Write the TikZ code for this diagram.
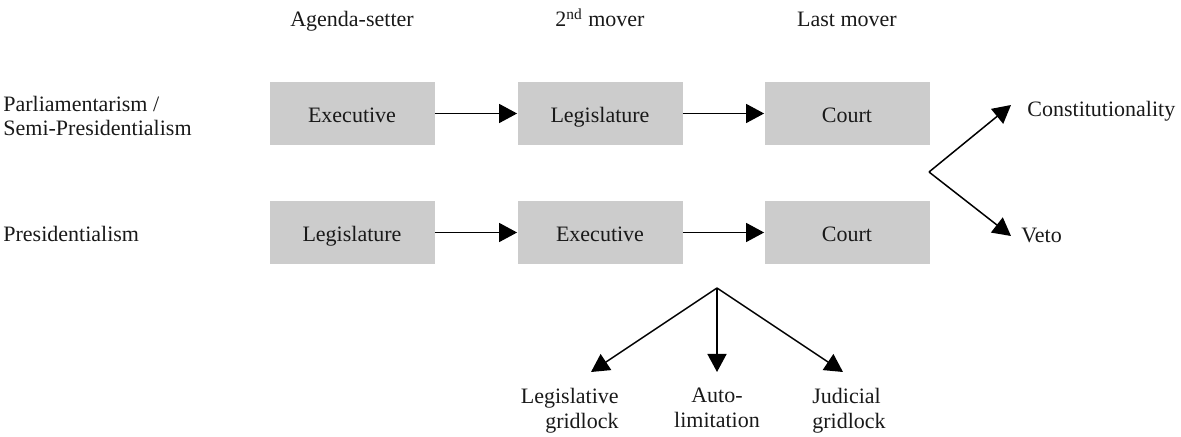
\documentclass[tikz,border=0pt]{standalone}
\usepackage{fontspec}
\setmainfont{Liberation Serif}
\usetikzlibrary{arrows.meta}
\begin{document}
\begin{tikzpicture}[x=0.5pt,y=-0.5pt,
  every node/.style={font=\fontsize{11}{12.25}\selectfont, inner sep=0pt, text=black!90},
  actor/.style={fill=boxgray, minimum width=82.5pt, minimum height=31.5pt,
    text height=0.86em, text depth=0pt},
  lbl/.style={anchor=base},
  arr/.style={line width=0.75pt, draw=black,
    -{Triangle[length=9pt,width=9.5pt]}}]
\definecolor{boxgray}{HTML}{CCCCCC}
\useasboundingbox (0,0) rectangle (1181,437);

% column headers
\node[lbl] (h1) at (352,27) {Agenda-setter};
\node[lbl] (h2) at (600,27) {2\textsuperscript{nd} mover};
\node[lbl] (h3) at (847,27) {Last mover};

% row labels
\node[anchor=west, align=left] (r1) at (3,116) {Parliamentarism /\\Semi-Presidentialism};
\node[anchor=base west] (r2) at (3,242) {Presidentialism};

% boxes
\node[actor] (a1) at (352,113.5) {Executive};
\node[actor] (a2) at (600,113.5) {Legislature};
\node[actor] (a3) at (847,113.5) {Court};
\node[actor] (b1) at (352,232.5) {Legislature};
\node[actor] (b2) at (600,232.5) {Executive};
\node[actor] (b3) at (847,232.5) {Court};

\draw[arr] (a1) -- (a2);
\draw[arr] (a2) -- (a3);
\draw[arr] (b1) -- (b2);
\draw[arr] (b2) -- (b3);

% court outcomes
\coordinate (f1) at (929,172);
\coordinate (t1) at (1011,105);
\coordinate (t2) at (1011,236);
\node[anchor=base west] (c1) at (1027,117) {Constitutionality};
\node[anchor=base west] (c2) at (1021,243) {Veto};
\draw[arr] (f1) -- (t1);
\draw[arr] (f1) -- (t2);

% executive outcomes
\coordinate (f2) at (717,288);
\coordinate (s1) at (591,372);
\coordinate (s2) at (717,372);
\coordinate (s3) at (843,372);
\draw[arr] (f2) -- (s1);
\draw[arr] (f2) -- (s2);
\draw[arr] (f2) -- (s3);
\node[anchor=east, align=right] (o1) at (619,410.5) {Legislative\\gridlock};
\node[align=center] (o2) at (717,408) {Auto-\\limitation};
\node[anchor=west, align=left] (o3) at (812,410.5) {Judicial\\gridlock};
\end{tikzpicture}
\end{document}
